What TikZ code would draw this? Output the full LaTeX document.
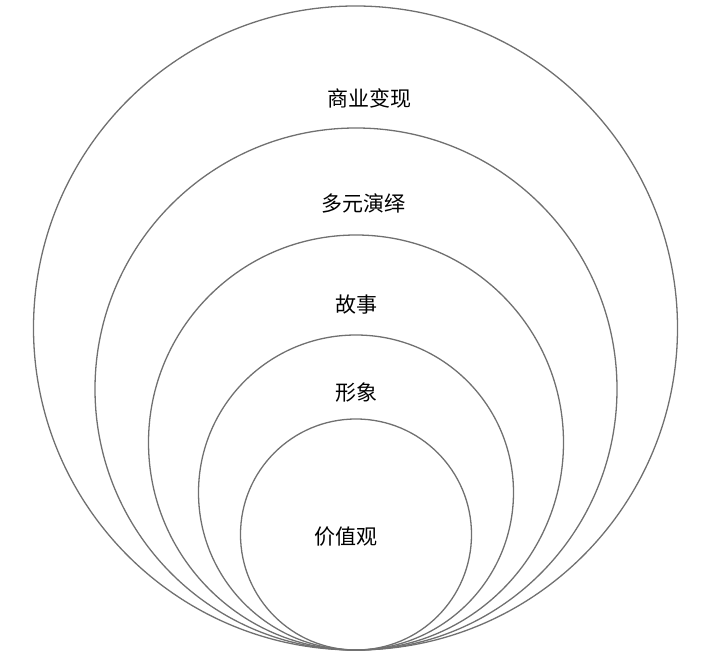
\documentclass[tikz,border=0pt]{standalone}
\usepackage{fontspec}
\newfontfamily\cjk{Noto Sans CJK SC}
\definecolor{ringgray}{HTML}{707070}
\begin{document}
\begin{tikzpicture}[x=1pt,y=1pt,
  ring/.style={circle,draw=ringgray,line width=1.3pt,inner sep=0pt,outer sep=0pt},
  lbl/.style={font=\cjk\fontsize{21}{21}\selectfont,text=black,inner sep=0pt}]
\useasboundingbox (0,0) rectangle (723,670);
\node[ring,minimum size=644pt] (c1) at (355.5,342) {};
\node[ring,minimum size=522pt] (c2) at (356,281) {};
\node[ring,minimum size=415pt] (c3) at (356,227.5) {};
\node[ring,minimum size=315pt] (c4) at (356,177.5) {};
\node[ring,minimum size=231pt] (c5) at (356,135.5) {};
\node[lbl] (t1) at (369,572) {商业变现};
\node[lbl] (t2) at (363,467) {多元演绎};
\node[lbl] (t3) at (356,365) {故事};
\node[lbl] (t4) at (356,277) {形象};
\node[lbl] (t5) at (346,133) {价值观};
\end{tikzpicture}
\end{document}
